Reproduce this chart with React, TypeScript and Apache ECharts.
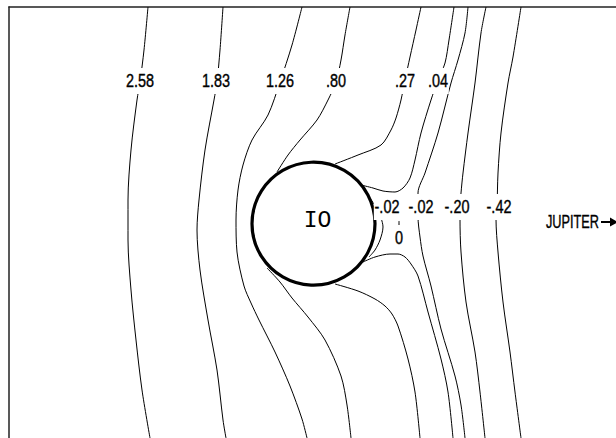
import React, { useEffect, useRef } from "react";
import * as echarts from "echarts";

// Contour lines traced in figure coordinates (x right, y down)
const c258 = [[148,7],[144,50],[140,82],[137,100],[131,150],[128,200],[128,240],[131,290],[136,340],[142,390],[150,438]];
const c183 = [[223,7],[220,50],[217,82],[214,100],[205,150],[199,200],[197,230],[200,270],[208,320],[217,370],[223,420],[226,438]];
const c126 = [[302,7],[292,45],[280,82],[268,115],[252,140],[243,165],[238,190],[236,220],[237,252],[244,286],[251,303],[259,320],[275,352],[290,386],[302,419],[307,438]];
const c080a = [[350,7],[345,35],[341,60],[336,82],[328,100],[317,120],[300,140],[288,155],[277,172]];
const c080b = [[267,268],[280,282],[292,298],[308,317],[325,340],[341,376],[347,405],[351,438]];
const c027a = [[421,7],[416,30],[410,57],[405,80],[401,100],[396,118],[391,130],[381,145],[358,155],[335,164]];
const c027b = [[335,284],[358,291],[375,299],[385,306],[392,314],[398,326],[408,359],[415,392],[420,438]];
const c004a = [[454,7],[449,40],[445,63],[438,80],[431,100],[421,133],[415,160],[410,178],[403,188],[395,192],[383,191],[373,188],[361,185]];
const c004b = [[363,262],[375,257],[390,254],[398,254],[405,257],[411,264],[418,276],[428,312],[441,359],[448,392],[453,438]];
const c002outer = [[468,7],[465,33],[458,60],[451,83],[438,133],[425,173],[418,193],[418,217],[420,237],[423,256],[431,286],[441,329],[455,376],[461,405],[465,438]];
const c002inner = [[369,197],[376,207],[381,218],[383,227],[380,240],[375,250],[369,257]];
const c020 = [[486,7],[481,33],[475,83],[468,133],[463,173],[461,193],[460,207],[460,219],[461,252],[466,302],[475,352],[480,392],[485,438]];
const c042 = [[521,7],[513,57],[508,83],[501,133],[498,173],[497,207],[496,219],[498,252],[503,302],[510,352],[515,392],[521,438]];
const zeroTick = [[399,221],[399,227]];

const contourLines = [c258, c183, c126, c080a, c080b, c027a, c027b, c004a, c004b, c002outer, c002inner, c020, c042, zeroTick];

// Contour value labels
const labelText = ["2.58", "1.83", "1.26", ".80", ".27", ".04", "-.02", "-.02", "-.20", "-.42", "0"];
const labelX = [140, 216, 280, 336, 405, 438, 387, 421, 457, 499, 399];
const labelY = [81, 81, 81, 81, 81, 81, 207, 207, 207, 207, 238];

// Io
const ioCenter = [313.5, 223.7];
const ioName = "IO";

const NUM_FONT = "Liberation Sans, Arial, sans-serif";

export default function App() {
  const ref = useRef<HTMLDivElement>(null);
  useEffect(() => {
    if (!ref.current) return;
    const chart = echarts.init(ref.current, null, { renderer: "svg" });
    const series: any[] = contourLines.map((d) => ({
      type: "line",
      data: d,
      showSymbol: false,
      smooth: 0.3,
      silent: true,
      z: 2,
      lineStyle: { color: "#000", width: 1 },
    }));
    series.push({
      type: "scatter",
      data: [{ value: ioCenter, name: ioName }],
      symbol: "circle",
      symbolSize: 123,
      silent: true,
      z: 3,
      itemStyle: { color: "#fff", borderColor: "#000", borderWidth: 3.2, opacity: 1 },
      label: {
        show: true,
        position: "inside",
        formatter: "{b}",
        offset: [4, -3],
        fontFamily: "Liberation Mono, DejaVu Sans Mono, monospace",
        fontSize: 23,
        color: "#000",
      },
    });
    series.push({
      type: "custom",
      silent: true,
      z: 4,
      data: labelText.map((t, i) => [labelX[i], labelY[i], t]),
      renderItem: (params: any, api: any) => {
        const p = api.coord([api.value(0), api.value(1)]);
        const txt = labelText[params.dataIndex];
        return {
          type: "text",
          x: p[0],
          y: p[1],
          scaleX: 0.76,
          style: {
            text: txt,
            fontFamily: NUM_FONT,
            fontSize: 19,
            fill: "#000",
            stroke: "#000",
            lineWidth: 0.4,
            align: "center",
            verticalAlign: "middle",
            backgroundColor: "#fff",
            padding: [4, 1, 3, 1],
          },
        };
      },
    });
    chart.setOption({
      animation: false,
      backgroundColor: "#fff",
      grid: { left: 9, top: 7, right: 0, bottom: 0 },
      xAxis: {
        type: "value",
        min: 9,
        max: 616,
        position: "top",
        axisLine: { show: true, lineStyle: { color: "#222", width: 1.5 } },
        axisTick: { show: false },
        axisLabel: { show: false },
        splitLine: { show: false },
      },
      yAxis: {
        type: "value",
        min: 7,
        max: 438,
        inverse: true,
        axisLine: { show: true, lineStyle: { color: "#222", width: 1.5 } },
        axisTick: { show: false },
        axisLabel: { show: false },
        splitLine: { show: false },
      },
      graphic: [
        {
          type: "text",
          x: 546,
          y: 221,
          scaleX: 0.67,
          z: 10,
          style: {
            text: "JUPITER",
            fontFamily: NUM_FONT,
            fontSize: 19,
            fill: "#000",
            stroke: "#000",
            lineWidth: 0.4,
            verticalAlign: "middle",
          },
        },
        {
          type: "line",
          z: 10,
          shape: { x1: 601, y1: 222, x2: 616, y2: 222 },
          style: { stroke: "#000", lineWidth: 2 },
        },
        {
          type: "polygon",
          z: 10,
          shape: { points: [[610, 217.5], [618, 222], [610, 226.5]] },
          style: { fill: "#000" },
        },
      ],
      series,
    });
    return () => chart.dispose();
  }, []);
  return (
    <div
      ref={ref}
      style={{ position: "fixed", left: 0, top: 0, width: 616, height: 438, background: "#fff" }}
    />
  );
}
